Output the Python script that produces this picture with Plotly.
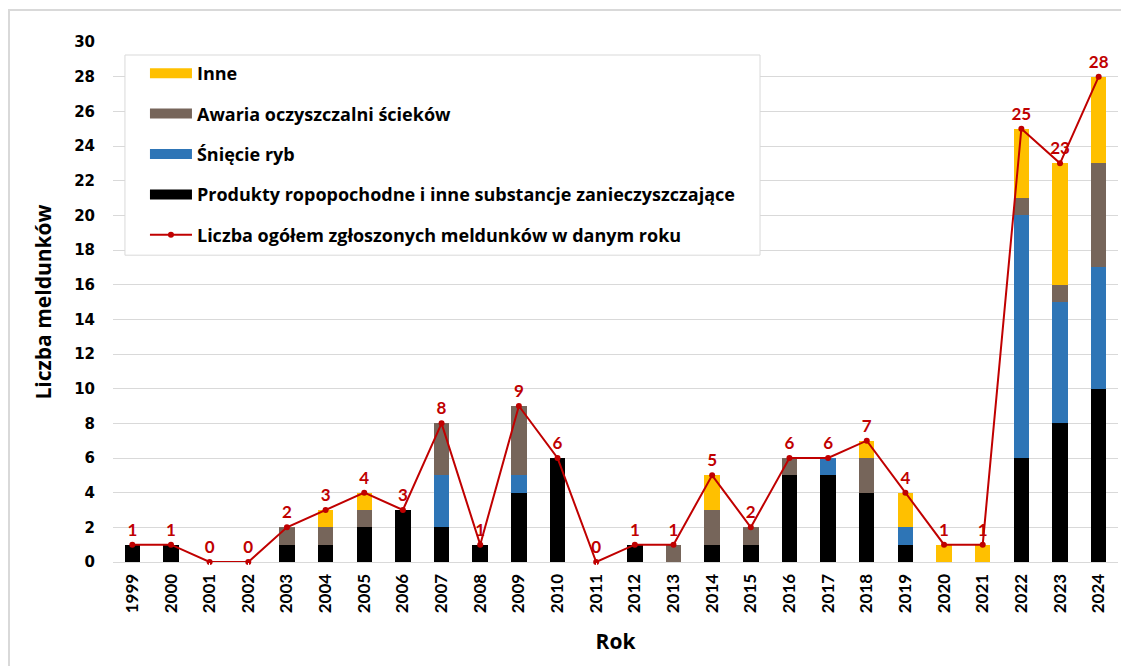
import plotly.graph_objects as go

years = [str(y) for y in range(1999, 2025)]
produkty = [1, 1, 0, 0, 1, 1, 2, 3, 2, 1, 4, 6, 0, 1, 0, 1, 1, 5, 5, 4, 1, 0, 0, 6, 8, 10]
sniecie = [0, 0, 0, 0, 0, 0, 0, 0, 3, 0, 1, 0, 0, 0, 0, 0, 0, 0, 1, 0, 1, 0, 0, 14, 7, 7]
awaria = [0, 0, 0, 0, 1, 1, 1, 0, 3, 0, 4, 0, 0, 0, 1, 2, 1, 1, 0, 2, 0, 0, 0, 1, 1, 6]
inne = [0, 0, 0, 0, 0, 1, 1, 0, 0, 0, 0, 0, 0, 0, 0, 2, 0, 0, 0, 1, 2, 1, 1, 4, 7, 5]
ogolem = [1, 1, 0, 0, 2, 3, 4, 3, 8, 1, 9, 6, 0, 1, 1, 5, 2, 6, 6, 7, 4, 1, 1, 25, 23, 28]

series = [
    ("Produkty ropopochodne i inne substancje zanieczyszczające", produkty, "#000000", 4),
    ("Śnięcie ryb", sniecie, "#2E75B6", 3),
    ("Awaria oczyszczalni ścieków", awaria, "#76655A", 2),
    ("Inne", inne, "#FFC000", 1),
]

FONT = "Open Sans"
LFONT = "Lato"
fig = go.Figure()

for name, vals, color, rank in series:
    fig.add_trace(go.Bar(x=years, y=vals, name=name, showlegend=False,
                         marker=dict(color=color, line=dict(width=0))))
    # legend-only proxy to get wide rectangular legend swatches
    fig.add_trace(go.Scatter(x=[None], y=[None], name=name, mode="lines",
                             line=dict(color=color, width=12),
                             legendrank=rank, legendgroup=str(rank)))

fig.add_trace(go.Scatter(x=years, y=ogolem, name="Liczba ogółem zgłoszonych meldunków w danym roku",
                         mode="lines+markers+text", text=[str(v) for v in ogolem],
                         textposition="top center",
                         textfont=dict(family=LFONT, size=17, color="#C00000", weight="bold"),
                         line=dict(color="#C00000", width=2),
                         marker=dict(color="#C00000", size=6),
                         legendrank=5, legendgroup="5", cliponaxis=False))

fig.update_layout(
    barmode="stack",
    bargap=0.6,
    width=1129, height=666,
    margin=dict(l=105, r=19, t=34, b=112),
    paper_bgcolor="white",
    plot_bgcolor="white",
    font=dict(family=FONT, color="#000000"),
    legend=dict(
        x=0.0318, y=0.975, xanchor="left", yanchor="top",
        bgcolor="rgba(0,0,0,0)", borderwidth=0,
        font=dict(family=FONT, size=18, color="#000000", weight="bold"),
        traceorder="grouped", tracegroupgap=14, itemwidth=42,
    ),
    xaxis=dict(
        title=dict(text="Rok", font=dict(family=FONT, size=21, weight="bold"), standoff=22),
        tickangle=-90,
        tickfont=dict(family=LFONT, size=17, weight="bold"),
        showgrid=False, showline=False, ticks="outside", ticklen=4, tickcolor="white",
        range=[-0.5, 25.5], automargin=False,
    ),
    yaxis=dict(
        title=dict(text="Liczba meldunków", font=dict(family=FONT, size=21, weight="bold"), standoff=16),
        range=[0, 30], dtick=2,
        tickfont=dict(family="DejaVu Sans", size=15, weight="bold"),
        showgrid=True, gridcolor="#D9D9D9", gridwidth=1,
        zeroline=True, zerolinecolor="#D9D9D9", zerolinewidth=1,
        showline=False, ticks="outside", ticklen=14, tickcolor="white",
        automargin=False,
    ),
    shapes=[
        dict(type="rect", xref="paper", yref="paper",
             x0=-0.1035, x1=1.03, y0=-0.3, y1=1.0615,
             line=dict(color="#D9D9D9", width=2), fillcolor="rgba(0,0,0,0)", layer="below"),
        # legend box
        dict(type="rect", xref="paper", yref="paper",
             x0=0.0119, x1=0.6438, y0=0.590, y1=0.975,
             line=dict(color="#D9D9D9", width=1), fillcolor="white", layer="above"),
    ],
)

fig.write_html("out.html")
